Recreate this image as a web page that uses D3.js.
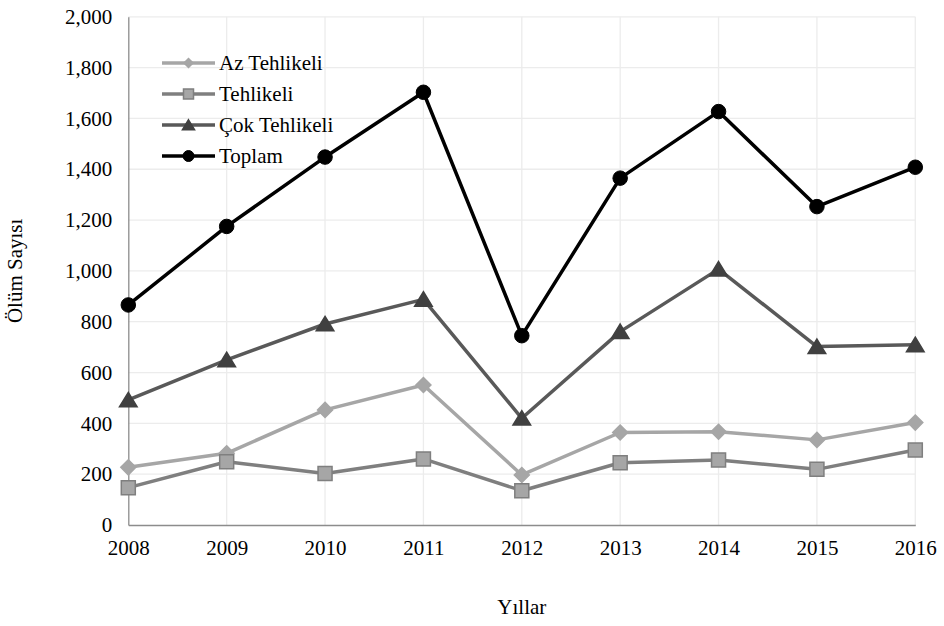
<!DOCTYPE html>
<html><head><meta charset="utf-8">
<script src="https://cdn.jsdelivr.net/npm/d3@7"></script>
<style>body{margin:0;background:#fff}svg{display:block}</style>
</head><body>
<svg id="c" width="944" height="626"></svg>
<script>
const years = ["2008","2009","2010","2011","2012","2013","2014","2015","2016"];
const azTehlikeli = [227, 282, 453, 551, 197, 364, 367, 335, 403];
const tehlikeli = [147, 249, 203, 260, 135, 245, 256, 219, 295];
const cokTehlikeli = [492, 650, 791, 888, 420, 761, 1007, 702, 709];
const toplam = [866, 1175, 1448, 1703, 745, 1365, 1627, 1253, 1408];
const yTicks = [0, 200, 400, 600, 800, 1000, 1200, 1400, 1600, 1800, 2000];
const seriesNames = ["Az Tehlikeli", "Tehlikeli", "Çok Tehlikeli", "Toplam"];

const FONT = "'Liberation Serif'";

const series = [
  {name: seriesNames[0], values: azTehlikeli, line: "#a6a6a6", fill: "#a6a6a6", stroke: "#a6a6a6", shape: "diamond"},
  {name: seriesNames[1], values: tehlikeli, line: "#7f7f7f", fill: "#a6a6a6", stroke: "#7f7f7f", shape: "square"},
  {name: seriesNames[2], values: cokTehlikeli, line: "#595959", fill: "#404040", stroke: "#404040", shape: "triangle"},
  {name: seriesNames[3], values: toplam, line: "#000000", fill: "#000000", stroke: "#000000", shape: "circle"}
];

const svg = d3.select("#c");
const m = {l: 128.3, r: 915.3, t: 16.8, b: 525};
const x = d3.scalePoint().domain(years).range([m.l, m.r]);
const y = d3.scaleLinear().domain([0, 2000]).range([m.b, m.t]);

// gridlines
const g = svg.append("g");
g.selectAll("line.h").data(yTicks.slice(1)).enter().append("line")
  .attr("x1", m.l).attr("x2", m.r).attr("y1", d => y(d)).attr("y2", d => y(d))
  .attr("stroke", "#ececec").attr("stroke-width", 1.3);
g.selectAll("line.v").data(years.slice(1)).enter().append("line")
  .attr("x1", d => x(d)).attr("x2", d => x(d)).attr("y1", m.t).attr("y2", m.b)
  .attr("stroke", "#ececec").attr("stroke-width", 1.3);

// axes
const yAxis = d3.axisLeft(y).tickValues(yTicks).tickSize(0).tickPadding(16).tickFormat(d3.format(","));
const ya = svg.append("g").attr("transform", `translate(${m.l},0)`).call(yAxis);
ya.select(".domain").attr("stroke", "#8c8c8c").attr("stroke-width", 1.3);
ya.selectAll("text").style("font-family", FONT).style("font-size", "21px").attr("fill", "#000");

const xAxis = d3.axisBottom(x).tickSize(0).tickPadding(15);
const xa = svg.append("g").attr("transform", `translate(0,${m.b})`).call(xAxis);
xa.select(".domain").attr("stroke", "#8c8c8c").attr("stroke-width", 1.3);
xa.selectAll("text").style("font-family", FONT).style("font-size", "21px").attr("fill", "#000");

// titles
svg.append("text").attr("x", (m.l + m.r) / 2).attr("y", 614).attr("text-anchor", "middle")
  .style("font-family", FONT).style("font-size", "21px").text("Yıllar");
svg.append("text").attr("transform", `translate(22,${(m.t + m.b) / 2}) rotate(-90)`)
  .attr("text-anchor", "middle").style("font-family", FONT).style("font-size", "21px").text("Ölüm Sayısı");

function markerPath(shape, s) {
  const h = s / 2;
  if (shape === "diamond") return `M0,${-h}L${h},0L0,${h}L${-h},0Z`;
  if (shape === "square") return `M${-h},${-h}H${h}V${h}H${-h}Z`;
  if (shape === "triangle") return `M0,${-h*0.95}L${h*1.1},${h*0.85}L${-h*1.1},${h*0.85}Z`;
  return null;
}
function drawMarker(sel, s, size) {
  if (s.shape === "circle") {
    sel.append("circle").attr("r", size / 2).attr("fill", s.fill).attr("stroke", s.stroke).attr("stroke-width", 1);
  } else {
    sel.append("path").attr("d", markerPath(s.shape, size)).attr("fill", s.fill)
      .attr("stroke", s.stroke).attr("stroke-width", 1.5);
  }
}

const line = d3.line().x((d, i) => x(years[i])).y(d => y(d));
const msize = {diamond: 15, square: 14, triangle: 16, circle: 14.5};
series.forEach(s => {
  svg.append("path").datum(s.values).attr("d", line).attr("fill", "none")
    .attr("stroke", s.line).attr("stroke-width", 3.5).attr("stroke-linejoin", "round");
  s.values.forEach((v, i) => {
    const mg = svg.append("g").attr("transform", `translate(${x(years[i])},${y(v)})`);
    drawMarker(mg, s, msize[s.shape]);
  });
});

// legend
const lsize = {diamond: 9, square: 10, triangle: 11, circle: 11};
const legY = [63, 94, 125, 156];
series.forEach((s, i) => {
  const lg = svg.append("g").attr("transform", `translate(0,${legY[i]})`);
  lg.append("line").attr("x1", 162).attr("x2", 215).attr("y1", 0).attr("y2", 0)
    .attr("stroke", s.line).attr("stroke-width", 3.5);
  const mg = lg.append("g").attr("transform", "translate(188.5,0)");
  drawMarker(mg, s, lsize[s.shape]);
  lg.append("text").attr("x", 219).attr("y", 7).style("font-family", FONT).style("font-size", "21px").text(s.name);
});
</script>
</body></html>
